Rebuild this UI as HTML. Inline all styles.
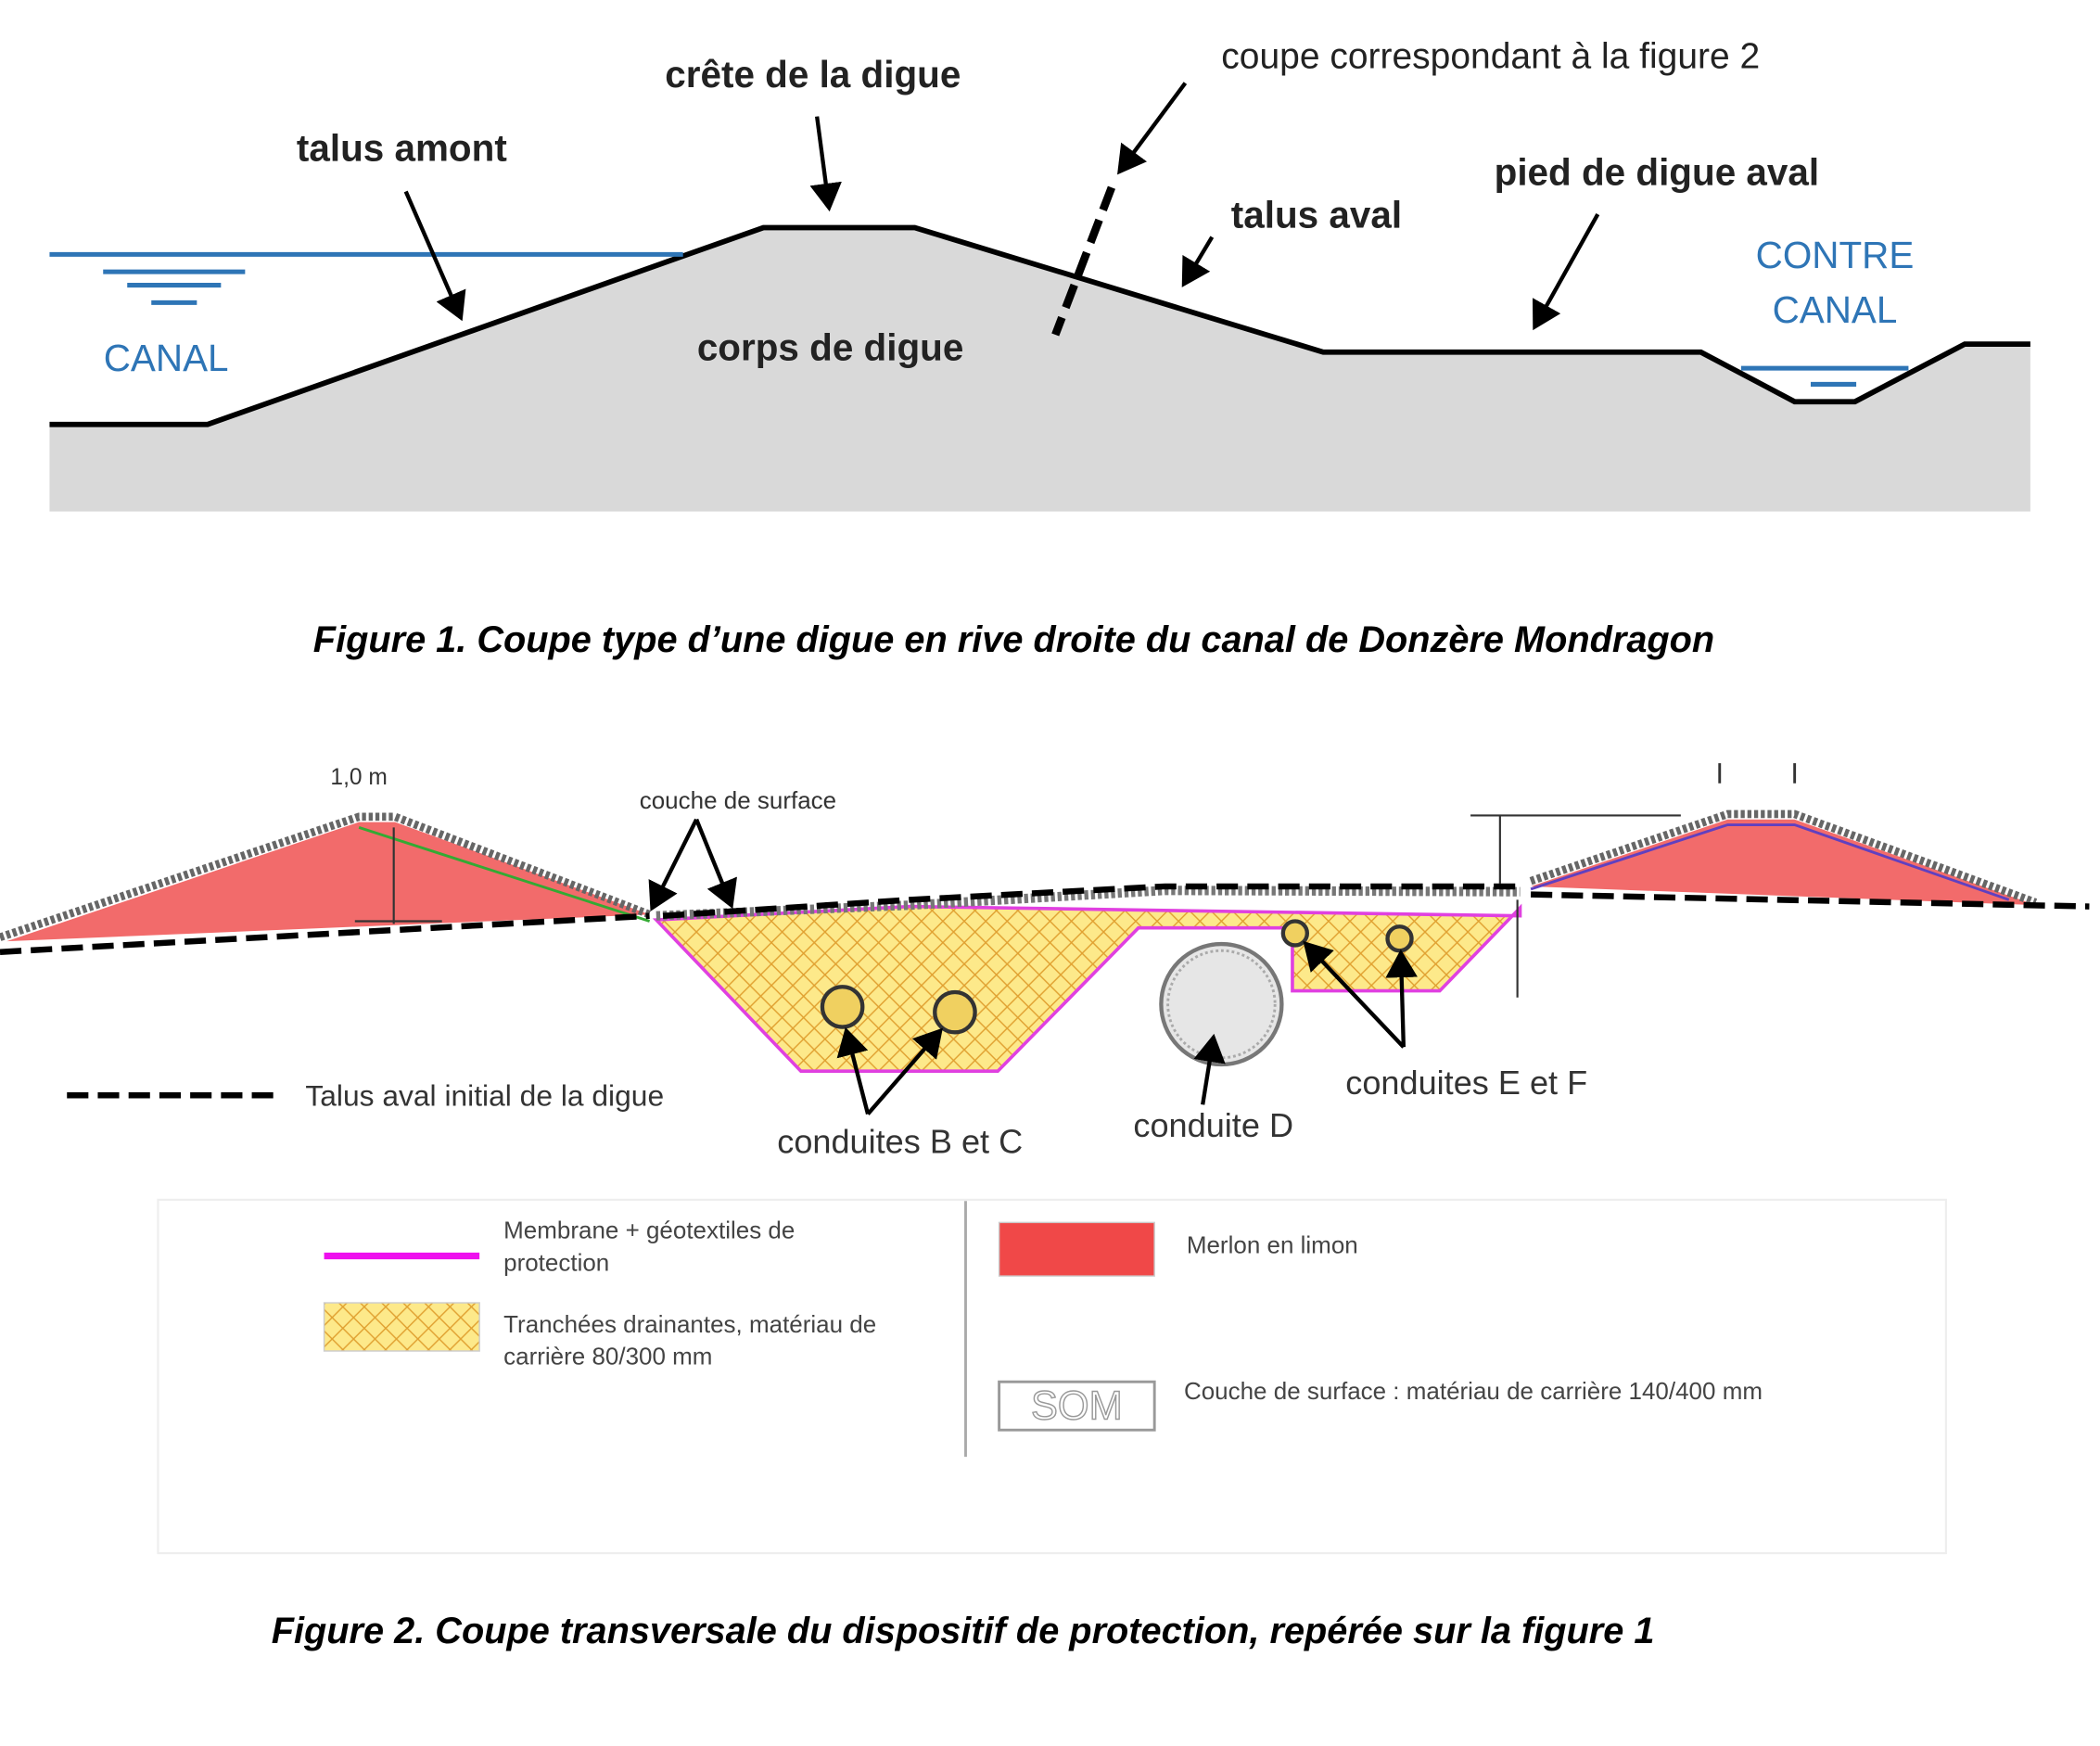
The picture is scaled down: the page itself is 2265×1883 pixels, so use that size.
<!DOCTYPE html>
<html><head><meta charset="utf-8"><style>
html,body{margin:0;padding:0;background:#fff}
svg{display:block}
text{font-family:"Liberation Sans",sans-serif}
</style></head><body>
<svg width="2265" height="1883" viewBox="0 0 1568 1304" preserveAspectRatio="none" xmlns="http://www.w3.org/2000/svg">
<defs>
<pattern id="hx" width="16" height="16" patternUnits="userSpaceOnUse">
<rect width="16" height="16" fill="#fde98a"/>
<path d="M0 0L16 16M16 0L0 16" stroke="#e0a030" stroke-width="1"/>
</pattern>
<marker id="ah" markerWidth="8" markerHeight="8" refX="6" refY="4" orient="auto" markerUnits="strokeWidth">
<path d="M0,0 L7,4 L0,8 z" fill="#000"/>
</marker>
</defs>
<rect width="1568" height="1304" fill="#fff"/>

<path d="M37,317 L155,317 L570,170 L683,170 L988,263 L1270,263 L1340,300 L1385,300 L1467,257 L1516,257 L1516,382 L37,382 Z" fill="#d9d9d9"/>
<path d="M37,317 L155,317 L570,170 L683,170 L988,263 L1270,263 L1340,300 L1385,300 L1467,257 L1516,257" fill="none" stroke="#000" stroke-width="4"/>
<g stroke="#2e75b6" stroke-width="3.5">
<line x1="37" y1="190" x2="510" y2="190"/>
<line x1="77" y1="203" x2="183" y2="203"/>
<line x1="95" y1="213" x2="165" y2="213"/>
<line x1="113" y1="226" x2="147" y2="226"/>
<line x1="1300" y1="275" x2="1425" y2="275"/>
<line x1="1352" y1="287" x2="1386" y2="287"/>
</g>
<g stroke="#000" stroke-width="3" marker-end="url(#ah)">
<line x1="610" y1="87" x2="619" y2="155"/>
<line x1="303" y1="143" x2="344" y2="237"/>
<line x1="885" y1="62" x2="836" y2="128"/>
<line x1="905" y1="177" x2="884" y2="212"/>
<line x1="1193" y1="160" x2="1146" y2="244"/>
</g>
<line x1="830" y1="140" x2="788" y2="250" stroke="#000" stroke-width="6" stroke-dasharray="18,8"/>
<g font-weight="bold" font-size="28" text-anchor="middle" fill="#222">
<text x="607" y="65">crête de la digue</text>
<text x="300" y="120">talus amont</text>
<text x="983" y="170">talus aval</text>
<text x="1237" y="138">pied de digue aval</text>
<text x="620" y="269">corps de digue</text>
</g>
<text x="1113" y="51" font-size="27" text-anchor="middle" fill="#222">coupe correspondant à la figure 2</text>
<g font-size="28" text-anchor="middle" fill="#2e75b6">
<text x="124" y="277">CANAL</text>
<text x="1370" y="200">CONTRE</text>
<text x="1370" y="241">CANAL</text>
</g>
<text x="757" y="487" font-size="27.5" font-weight="bold" font-style="italic" text-anchor="middle">Figure 1. Coupe type d’une digue en rive droite du canal de Donzère Mondragon</text>

<path d="M5,703 L268,614 L295,614 L485,683 Z" fill="#f26b6b"/>
<path d="M1143,662 L1290,612 L1340,612 L1520,676 Z" fill="#f26b6b"/>
<path d="M0,700 L268,610 L295,610 L485,683" fill="none" stroke="#666" stroke-width="6" stroke-dasharray="3,2"/>
<path d="M1143,658 L1290,608 L1340,608 L1520,674" fill="none" stroke="#666" stroke-width="6" stroke-dasharray="3,2"/>
<path d="M268,618 L485,688" fill="none" stroke="#3a3" stroke-width="2"/>
<path d="M1143,664 L1290,616 L1340,616 L1500,672" fill="none" stroke="#6040c0" stroke-width="2"/>
<path d="M490,687 L598,800 L745,800 L850,693 L965,693 L965,740 L1075,740 L1135,678 L1135,684 L680,677 Z" fill="url(#hx)" stroke="#e040e0" stroke-width="2.5"/>
<path d="M490,684 L680,676 L870,665 L1135,666" fill="none" stroke="#777" stroke-width="7" stroke-dasharray="3,2"/>
<g stroke="#000" stroke-width="4.5" stroke-dasharray="16,7" fill="none">
<path d="M0,711 L485,684"/>
<path d="M495,684 L680,672 L870,662 L1135,662"/>
<path d="M1143,668 L1560,677"/>
<line x1="50" y1="818" x2="208" y2="818"/>
</g>
<circle cx="912" cy="750" r="45" fill="#e6e6e6" stroke="#777" stroke-width="3"/>
<circle cx="912" cy="750" r="40" fill="none" stroke="#aaa" stroke-width="2" stroke-dasharray="2,2"/>
<g fill="#f0d060" stroke="#333" stroke-width="3">
<circle cx="629" cy="752" r="15"/><circle cx="713" cy="756" r="15"/>
<circle cx="967" cy="697" r="9"/><circle cx="1045" cy="701" r="9"/>
</g>
<g stroke="#000" stroke-width="3" fill="none" marker-end="url(#ah)">
<path d="M648,832 L632,770"/><path d="M648,832 L702,770"/>
<path d="M1048,782 L975,705"/><path d="M1048,782 L1046,712"/>
<path d="M898,825 L906,775"/>
<path d="M520,612 L487,678"/><path d="M520,612 L546,676"/>
</g>
<line x1="294" y1="618" x2="294" y2="690" stroke="#333" stroke-width="1.5"/>
<line x1="265" y1="688" x2="330" y2="688" stroke="#333" stroke-width="1.5"/>
<line x1="1098" y1="609" x2="1255" y2="609" stroke="#333" stroke-width="1.5"/>
<line x1="1120" y1="609" x2="1120" y2="660" stroke="#333" stroke-width="1.5"/>
<line x1="1133" y1="672" x2="1133" y2="745" stroke="#333" stroke-width="1.5"/>
<line x1="1284" y1="570" x2="1284" y2="585" stroke="#333" stroke-width="2"/>
<line x1="1340" y1="570" x2="1340" y2="585" stroke="#333" stroke-width="2"/>
<text x="268" y="586" font-size="17" text-anchor="middle" fill="#333">1,0 m</text>
<text x="551" y="604" font-size="18" text-anchor="middle" fill="#333">couche de surface</text>
<text x="228" y="826" font-size="22" fill="#333">Talus aval initial de la digue</text>
<g font-size="25" text-anchor="middle" fill="#333">
<text x="672" y="861">conduites B et C</text>
<text x="906" y="849">conduite D</text>
<text x="1095" y="817">conduites E et F</text>
</g>
<rect x="118" y="896" width="1335" height="264" fill="none" stroke="#eee" stroke-width="1.5"/>
<line x1="721" y1="897" x2="721" y2="1088" stroke="#aaa" stroke-width="2"/>
<line x1="242" y1="938" x2="358" y2="938" stroke="#ee10ee" stroke-width="5"/>
<rect x="242" y="973" width="116" height="36" fill="url(#hx)" stroke="#ccc"/>
<rect x="746" y="913" width="116" height="40" fill="#f04848" stroke="#ccc"/>
<rect x="746" y="1032" width="116" height="36" fill="#fff" stroke="#999" stroke-width="2"/>
<text x="804" y="1060" font-size="30" text-anchor="middle" fill="#fff" stroke="#999" stroke-width="1">SOM</text>
<g font-size="18" fill="#444">
<text x="376" y="925">Membrane + géotextiles de</text>
<text x="376" y="949">protection</text>
<text x="376" y="995">Tranchées drainantes, matériau de</text>
<text x="376" y="1019">carrière 80/300 mm</text>
<text x="886" y="936">Merlon en limon</text>
<text x="884" y="1045">Couche de surface :  matériau de carrière 140/400 mm</text>
</g>
<text x="719" y="1227" font-size="27.5" font-weight="bold" font-style="italic" text-anchor="middle">Figure 2. Coupe transversale du dispositif de protection, repérée sur la figure 1</text>
</svg>
</body></html>
